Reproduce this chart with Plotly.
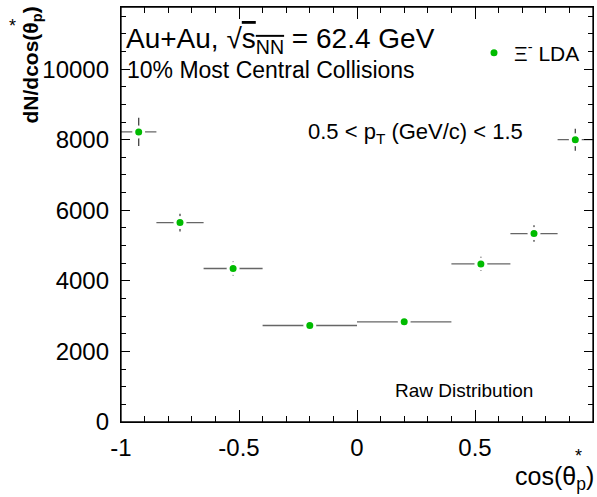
import plotly.graph_objects as go

# ---- data ----
bin_edges = [-1.0, -0.85, -0.65, -0.4, 0.0, 0.4, 0.65, 0.85, 1.0]
x_centers = [-0.925, -0.75, -0.525, -0.2, 0.2, 0.525, 0.75, 0.925]
y_values = [8220, 5650, 4350, 2735, 2840, 4480, 5340, 8000]
y_errors = [400, 250, 200, 60, 60, 200, 235, 310]
x_tick_vals = [-1, -0.5, 0, 0.5, 1]
x_tick_text = ["-1", "-0.5", "0", "0.5", "1"]
y_tick_vals = [0, 2000, 4000, 6000, 8000, 10000]
y_tick_text = ["0", "2000", "4000", "6000", "8000", "10000"]

xerr_minus = [c - lo for c, lo in zip(x_centers, bin_edges[:-1])]
xerr_plus = [hi - c for c, hi in zip(x_centers, bin_edges[1:])]

W, H = 597, 497
L, R, T, B = 121, 4, 7, 75
PW, PH = W - L - R, H - T - B


def px(x):
    return (x - L) / PW


def py(y):
    return (H - B - y) / PH


FONT = "Liberation Sans, Arial, Helvetica, sans-serif"
GREEN = "#00bb00"

fig = go.Figure()
fig.add_trace(go.Scatter(
    x=x_centers, y=y_values, mode="markers",
    name="Ξ<sup>-</sup> LDA",
    marker=dict(color=GREEN, size=10, line=dict(color="white", width=3)),
    error_y=dict(type="data", array=y_errors, color="#444444", thickness=1.3, width=0),
    error_x=dict(type="data", symmetric=False, array=xerr_plus, arrayminus=xerr_minus,
                 color="#666666", thickness=1.3, width=0),
    showlegend=True,
))

axis_common = dict(
    showgrid=False, zeroline=False, showline=True, linecolor="black", linewidth=1.3,
    mirror="allticks", ticks="inside", tickcolor="black", tickwidth=1.2,
    tickfont=dict(family=FONT, size=24, color="black"), automargin=False,
)
fig.update_xaxes(range=[-1, 1], tickvals=x_tick_vals, ticktext=x_tick_text,
                 ticklen=12, ticklabelstandoff=4,
                 minor=dict(ticks="inside", dtick=0.1, ticklen=6, tickcolor="black", tickwidth=1.2),
                 **axis_common)
fig.update_yaxes(range=[0, 11760], tickvals=y_tick_vals, ticktext=y_tick_text,
                 ticklen=9, ticklabelstandoff=6,
                 minor=dict(ticks="inside", dtick=500, ticklen=5, tickcolor="black", tickwidth=1.2),
                 **axis_common)

ann = []


def add(text, x, y, size, xanchor="left", yanchor="middle", **kw):
    ann.append(dict(text=text, x=px(x), y=py(y), xref="paper", yref="paper",
                    xanchor=xanchor, yanchor=yanchor, showarrow=False,
                    font=dict(family=FONT, size=size, color="black"), **kw))


add("Au+Au, √<span style='text-decoration:overline'>s<sub>NN</sub></span> = 62.4 GeV", 124, 40, 28)
add("10% Most Central Collisions", 125, 70, 23)
add("0.5 < p<sub>T</sub> (GeV/c) < 1.5", 306, 133, 22)
add("Raw Distribution", 393, 390, 19)
add("cos(θ<sub>p</sub>)", 596, 478, 25, xanchor="right")
add("*", 578, 456, 18, xanchor="center")
add("<b>dN/dcos(θ<sub>p</sub>)</b>", 31, 5, 21, xanchor="center", yanchor="top", textangle=-90)
add("*", 12, 26, 18, xanchor="center")

fig.update_layout(
    width=W, height=H, margin=dict(l=L, r=R, t=T, b=B, autoexpand=False),
    paper_bgcolor="white", plot_bgcolor="white",
    annotations=ann,
    shapes=[dict(type="rect", xref="paper", yref="paper", x0=0, y0=0, x1=1, y1=1,
                 line=dict(color="black", width=1.3), layer="above")],
    legend=dict(x=px(474), y=py(53), xanchor="left", yanchor="middle",
                bgcolor="rgba(0,0,0,0)", font=dict(family=FONT, size=21, color="black"),
                itemwidth=30, tracegroupgap=0),
)

fig.write_html("out.html", config={"displayModeBar": False},
               post_script="document.body.style.margin='0';")
